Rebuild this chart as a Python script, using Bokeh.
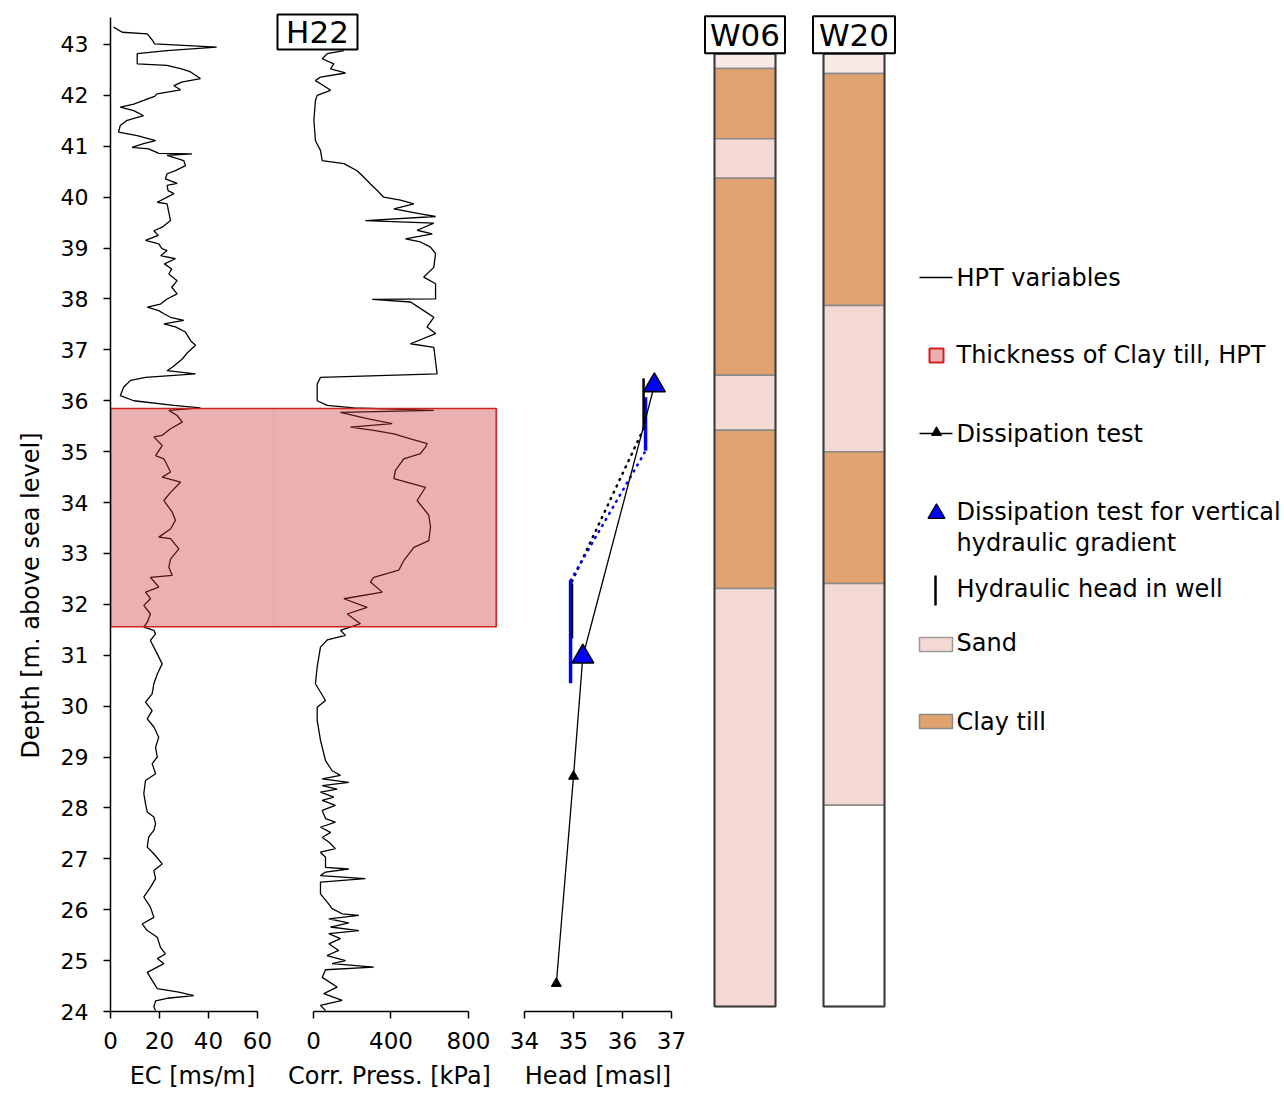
from bokeh.plotting import figure
from bokeh.layouts import row
from bokeh.models import Range1d, FixedTicker, Title
from bokeh.embed import file_html
from bokeh.resources import INLINE
from bokeh.core.properties import value

# ---------------- data ----------------
ec_depth = [43.34, 43.24, 43.21, 43.09, 43.01, 42.95, 42.88, 42.82, 42.62, 42.59, 42.52, 42.46, 42.33, 42.26,
            42.19, 42.11, 42.03, 41.98, 41.90, 41.83, 41.77, 41.70, 41.60, 41.51, 41.41, 41.28, 41.21,
            41.11, 41.05, 40.98, 40.95, 40.86, 40.85, 40.82, 40.72, 40.62, 40.52, 40.46, 40.36, 40.27, 40.23,
            40.13, 40.07, 39.90, 39.87, 39.70, 39.54, 39.41, 39.34, 39.25, 39.15, 39.08, 38.99, 38.95, 38.85,
            38.79, 38.69, 38.59, 38.49, 38.36, 38.23, 38.10, 38.00, 37.90, 37.84, 37.77, 37.71, 37.64, 37.58,
            37.51, 37.45, 37.35, 37.18, 37.09, 36.95, 36.82, 36.66, 36.59, 36.53, 36.46,
            36.40, 36.27, 36.10, 36.00, 35.91, 35.86,
            35.81, 35.71, 35.58, 35.45, 35.32, 35.29, 35.12, 34.92, 34.86, 34.60, 34.50, 34.40, 34.20, 34.04,
            33.81, 33.65, 33.48, 33.32, 33.29, 33.09, 32.89, 32.73, 32.57, 32.53, 32.34, 32.24, 32.11, 31.98,
            31.81, 31.65, 31.55,
            31.49, 31.42, 31.29, 31.09, 30.83, 30.63, 30.44, 30.24, 30.08, 29.91, 29.75, 29.59, 29.39, 29.19,
            29.00, 28.87, 28.67, 28.54, 28.28, 28.08, 27.92, 27.82, 27.69, 27.56, 27.43, 27.23, 27.10, 26.90,
            26.77, 26.61, 26.44, 26.25, 26.05, 25.85, 25.72, 25.59, 25.46, 25.26, 25.13, 25.04, 24.94, 24.77,
            24.61, 24.45, 24.38, 24.31, 24.26, 24.21, 24.09, 24.02]
ec_value = [1.3, 4.8, 15, 17, 18, 43.3, 23, 10.9, 10.9, 23, 29, 32.7, 36.7, 29,
            25.9, 28.6, 19, 18, 13.5, 9.5, 4, 9.5, 13.5, 6.8, 4, 3.3, 10.9,
            18.4, 13.5, 8.8, 15.6, 19.7, 33.3, 23.1, 29.9, 30.6, 26.5, 23.1, 22.4, 27.2, 23.1,
            23.5, 25.9, 19.1, 23.1, 23.8, 24.5, 21.1, 17.7, 19.5, 14.3, 19.7, 21.0, 23.1, 20.5,
            26.5, 22.0, 25.0, 23.8, 27.2, 25.0, 27.2, 23.1, 20.4, 15.0, 19.7, 21.8, 24.5, 29.9,
            21.8, 26.5, 30.6, 32.7, 34.7, 31.5, 29.3, 25.2, 23.1, 34.7, 14.3,
            8.2, 5.4, 4, 9.5, 25.9, 36.7,
            23.8, 27.2, 29.3, 24.5, 21.1, 17.7, 21.1, 18.4, 21.8, 24.5, 21.1, 28.6, 24.5, 21.8,
            25.2, 26.5, 24.5, 19.7, 24.5, 27.9, 24.5, 23.8, 25.2, 16.3, 19.7, 14.3, 16.3, 13.6,
            16.3, 15.0, 13.6,
            17.7, 18.4, 16.3, 18.4, 21.1, 19.1, 17.7, 17.0, 14.3, 17.0, 15.0, 17.7, 19.7, 18.4,
            19.1, 17.0, 18.4, 14.3, 13.6, 14.3, 15.0, 17.7, 18.4, 17.7, 15.6, 15.0, 17.7, 21.1,
            17.7, 18.4, 16.3, 13.6, 16.3, 17.7, 12.9, 15.0, 19.1, 20.4, 22.4, 19.1, 21.8, 15.0,
            17.0, 19.1, 27.9, 34.0, 23.1, 18.4, 17.7, 18.4]

press_depth = [42.88, 42.82, 42.72, 42.62, 42.52, 42.44, 42.36, 42.29, 42.19, 42.10, 42.00, 41.90, 41.51, 41.11,
               40.92, 40.72, 40.66, 40.52, 40.39, 40.26, 40.13, 40.00, 39.94, 39.87, 39.77, 39.67, 39.62, 39.54,
               39.49, 39.35, 39.28, 39.18, 39.12, 39.02, 38.89, 38.62, 38.43, 38.30, 38.00, 37.99, 37.94, 37.77,
               37.64, 37.45, 37.32, 37.12, 37.05, 36.53, 36.46, 36.33, 36.00, 35.91, 35.86, 35.81, 35.77, 35.65,
               35.55, 35.48, 35.42, 35.35, 35.25, 35.16, 35.09, 34.96, 34.86, 34.63, 34.47, 34.30, 34.04, 33.75,
               33.52, 33.25, 33.12, 32.86, 32.67, 32.53, 32.44, 32.24, 32.11, 31.94, 31.81, 31.62, 31.49, 31.39,
               31.30, 31.16, 30.77, 30.44, 30.11, 29.98, 29.72, 29.33,
               28.93, 28.73, 28.64, 28.57, 28.50, 28.44, 28.37, 28.31, 28.21, 28.15,
               28.05, 27.95, 27.79, 27.72, 27.62, 27.52, 27.42, 27.33, 27.20, 27.13,
               27.03, 26.83, 26.80, 26.74, 26.67, 26.61, 26.54, 26.31, 26.11, 26.02,
               25.92, 25.89, 25.82, 25.74, 25.66, 25.59, 25.53, 25.43, 25.33, 25.20,
               25.10, 25.00, 24.94, 24.87, 24.82, 24.67, 24.48, 24.35, 24.22, 24.12, 24.02]
press_value = [157, 71, 45, 105, 88, 165, 36, 10, 53, 88, 19, 10, 2, 10,
               36, 45, 157, 225, 260, 294, 329, 363, 449, 518, 415, 552, 630, 268,
               621, 535, 613, 475, 552, 604, 630, 621, 569, 630, 630, 303, 501, 569,
               621, 586, 630, 501, 621, 638, 36, 19, 19, 71, 208, 621, 139, 277,
               406, 191, 311, 415, 501, 587, 578, 552, 466, 423, 415, 578, 535, 595,
               604, 595, 518, 466, 440, 311, 294, 355, 157, 277, 174, 242, 139, 165,
               71, 36, 19, 10, 62, 19, 19, 36,
               62, 96, 139, 45, 182, 45, 122, 36, 105, 45,
               113, 45, 62, 113, 36, 88, 45, 79, 113, 36,
               62, 62, 182, 62, 36, 268, 36, 36, 79, 96,
               148, 234, 79, 182, 88, 234, 79, 139, 79, 130,
               70, 165, 96, 311, 62, 45, 122, 53, 148, 36, 62]

# HPT clay till thickness (depth interval) and its right end in kPa
clay_hpt_top = 35.85
clay_hpt_bottom = 31.56
clay_hpt_right_kpa = 943

# dissipation tests (head masl, depth)
diss_head = [34.65, 35.0, 35.19, 36.65]
diss_depth = [24.55, 28.62, 30.97, 36.30]
vg_head = [35.19, 36.65]
vg_depth = [30.97, 36.30]

# hydraulic head in wells: black and blue screens (head, top depth, bottom depth)
well_black_head = [36.43, 34.97]
well_black_top = [36.44, 32.41]
well_black_bottom = [35.45, 31.33]
well_blue_head = [36.47, 34.94]
well_blue_top = [36.07, 32.47]
well_blue_bottom = [35.02, 30.45]
grad_black_head = [34.97, 36.43]
grad_black_depth = [32.45, 35.45]
grad_blue_head = [34.94, 36.45]
grad_blue_depth = [32.47, 34.98]

# borehole lithology (top, bottom, type)
w06_top = [42.82, 42.53, 41.15, 40.37, 36.50, 35.42, 32.31]
w06_bottom = [42.53, 41.15, 40.37, 36.50, 35.42, 32.31, 24.10]
w06_type = ["top", "clay", "sand", "clay", "sand", "clay", "sand"]
w20_top = [42.82, 42.43, 37.87, 35.00, 32.41, 28.05]
w20_bottom = [42.43, 37.87, 35.00, 32.41, 28.05, 24.10]
w20_type = ["top", "clay", "sand", "clay", "sand", "none"]

ec_ticks = [0, 20, 40, 60]
press_ticks = [0, 400, 800]
head_ticks = [34, 35, 36, 37]
depth_ticks = list(range(24, 44))

# ---------------- style ----------------
FONT = "DejaVu Sans"
H = 1097
TOP = 8
BOTTOM = H - TOP - 1003
CLAY = "#e0a26f"
SAND = "#f3d8d3"
TOPC = "#f9e9e7"
COLORS = {"clay": CLAY, "sand": SAND, "top": TOPC, "none": "white"}
RECT_FILL = "#cc3535"
RECT_LINE = "#d42020"
BLUE = "#0000ff"

y_range = Range1d(24, 43.707)


def base(p):
    p.outline_line_color = None
    p.xgrid.visible = False
    p.ygrid.visible = False
    p.background_fill_color = "white"
    p.border_fill_color = "white"
    p.min_border_top = TOP
    p.min_border_bottom = BOTTOM
    p.min_border_right = 0


def axis_style(ax, size="22px"):
    ax.axis_line_color = "black"
    ax.axis_line_width = 1.5
    ax.major_tick_line_color = "black"
    ax.major_tick_line_width = 1.5
    ax.major_tick_out = 7
    ax.major_tick_in = 0
    ax.minor_tick_line_color = None
    ax.major_label_text_font = FONT
    ax.major_label_text_font_size = size
    ax.major_label_text_color = "black"
    ax.axis_label_text_font = FONT
    ax.axis_label_text_font_size = "24px"
    ax.axis_label_text_font_style = "normal"
    ax.axis_label_text_color = "black"


def xaxis(p, label, ticks):
    ax = p.xaxis[0]
    axis_style(ax, "23px")
    ax.axis_label = label
    ax.ticker = FixedTicker(ticks=ticks)
    ax.bounds = (ticks[0], ticks[-1])
    ax.major_label_standoff = 13
    ax.axis_label_standoff = 10


def boxed_label(p, x, y, text, w, h):
    p.rect(x=[x], y=[y], width=w, height=h, width_units="screen", height_units="screen",
           fill_color="white", line_color="black", line_width=2)
    p.text(x=[x], y=[y], text=[text], text_align="center", text_baseline="middle",
           text_font=value(FONT), text_font_size=value("31px"), text_color="black")


# ---------------- EC panel ----------------
p1 = figure(width=274, height=H, x_range=Range1d(0, 66.939), y_range=y_range,
            output_backend="svg", toolbar_location=None)
base(p1)
p1.min_border_left = 110
xaxis(p1, "EC [ms/m]", ec_ticks)
ya = p1.yaxis[0]
axis_style(ya, "22px")
ya.ticker = FixedTicker(ticks=depth_ticks)
ya.bounds = (24, 43.53)
ya.major_label_standoff = 15
ya.axis_label = None
ytitle = Title(text="Depth [m. above sea level]", align="left", offset=253,
               text_font=FONT, text_font_size="24px", text_font_style="normal",
               text_color="black", standoff=26)
p1.add_layout(ytitle, "left")
p1.line(ec_value, ec_depth, line_color="black", line_width=1.3)
p1.quad(left=[0], right=[90], top=[clay_hpt_top], bottom=[clay_hpt_bottom],
        fill_color=RECT_FILL, fill_alpha=0.39, line_color=RECT_LINE, line_width=1.5)

# ---------------- pressure panel (overlaps the EC panel by one pixel) ----------------
p2 = figure(width=232, height=H, x_range=Range1d(-206.45, 990.97), y_range=y_range,
            output_backend="svg", toolbar_location=None, y_axis_location=None)
base(p2)
p2.min_border_left = 0
p2.margin = (0, 0, 0, -1)
p2.background_fill_color = None
p2.border_fill_color = None
xaxis(p2, "Corr. Press. [kPa]", press_ticks)
p2.line(press_value, press_depth, line_color="black", line_width=1.3)
p2.quad(left=[-206.45], right=[clay_hpt_right_kpa], top=[clay_hpt_top], bottom=[clay_hpt_bottom],
        fill_color=RECT_FILL, fill_alpha=0.39, line_color=None)
p2.quad(left=[-400], right=[clay_hpt_right_kpa], top=[clay_hpt_top], bottom=[clay_hpt_bottom],
        fill_color=None, line_color=RECT_LINE, line_width=1.5)
boxed_label(p2, 20.6, 43.245, "H22", 80, 35)

# ---------------- head panel ----------------
p3 = figure(width=185, height=H, x_range=Range1d(33.6122, 37.3878), y_range=y_range,
            output_backend="svg", toolbar_location=None, y_axis_location=None)
base(p3)
p3.min_border_left = 0
xaxis(p3, "Head [masl]", head_ticks)
p3.line(grad_black_head, grad_black_depth, line_color="black", line_width=2.5,
        line_dash="1 6", line_cap="round")
p3.line(grad_blue_head, grad_blue_depth, line_color=BLUE, line_width=2.5,
        line_dash="1 6", line_cap="round")
p3.segment(x0=well_blue_head, y0=well_blue_top, x1=well_blue_head, y1=well_blue_bottom,
           line_color=BLUE, line_width=3.5)
p3.segment(x0=well_black_head, y0=well_black_top, x1=well_black_head, y1=well_black_bottom,
           line_color="black", line_width=2.5)
p3.line(diss_head, diss_depth, line_color="black", line_width=1.3)
p3.scatter(diss_head[:2], diss_depth[:2], marker="triangle", size=10,
           fill_color="black", line_color="black")
p3.scatter(vg_head, vg_depth, marker="triangle", size=22, fill_color=BLUE,
           line_color="black", line_width=1.5)

# ---------------- wells panel ----------------
p4 = figure(width=215, height=H, x_range=Range1d(0, 215), y_range=y_range,
            output_backend="svg", toolbar_location=None,
            x_axis_location=None, y_axis_location=None)
base(p4)
p4.min_border_left = 0
wells = [(24, 85, w06_top, w06_bottom, w06_type, "W06", 80),
         (133, 194, w20_top, w20_bottom, w20_type, "W20", 82)]
for left, right, tops, bottoms, types, name, bw in wells:
    n = len(tops)
    p4.quad(left=[left] * n, right=[right] * n, top=tops, bottom=bottoms,
            fill_color=[COLORS[t] for t in types], line_color="#8a8a8a", line_width=1.5)
    p4.quad(left=[left], right=[right], top=[tops[0]], bottom=[bottoms[-1]],
            fill_color=None, line_color="#3c3c3c", line_width=2)
    boxed_label(p4, (left + right) / 2, 43.19, name, bw, 37)

# ---------------- legend panel ----------------
LW = 377
p5 = figure(width=LW, height=H, x_range=Range1d(0, LW), y_range=Range1d(1003, 0),
            output_backend="svg", toolbar_location=None,
            x_axis_location=None, y_axis_location=None)
base(p5)
p5.min_border_left = 0
p5.line([14, 47], [269, 269], line_color="black", line_width=1.5)
p5.scatter([31], [347], marker="square", size=14, fill_color="#ebb0b0",
           line_color=RECT_LINE, line_width=2)
p5.line([14, 47], [425, 425], line_color="black", line_width=1.5)
p5.scatter([31], [424], marker="triangle", size=10, fill_color="black", line_color="black")
p5.scatter([31], [505], marker="triangle", size=17, fill_color=BLUE,
           line_color="black", line_width=1.2)
p5.segment(x0=[30], y0=[567], x1=[30], y1=[597], line_color="black", line_width=2.5)
p5.quad(left=[14], right=[47], top=[629], bottom=[643], fill_color=SAND,
        line_color="#9a9a9a", line_width=1.5)
p5.quad(left=[14], right=[47], top=[706], bottom=[720], fill_color=CLAY,
        line_color="#8a8a8a", line_width=1.5)
leg_text = ["HPT variables", "Thickness of Clay till, HPT", "Dissipation test",
            "Dissipation test for vertical", "hydraulic gradient",
            "Hydraulic head in well", "Sand", "Clay till"]
leg_y = [269, 346, 425, 503, 534, 580, 634, 713]
p5.text(x=[51] * len(leg_text), y=leg_y, text=leg_text, text_align="left",
        text_baseline="middle", text_font=value(FONT), text_font_size=value("24px"),
        text_color="black")

layout = row(p1, p2, p3, p4, p5)
open("out.html", "w").write(file_html(layout, INLINE))
